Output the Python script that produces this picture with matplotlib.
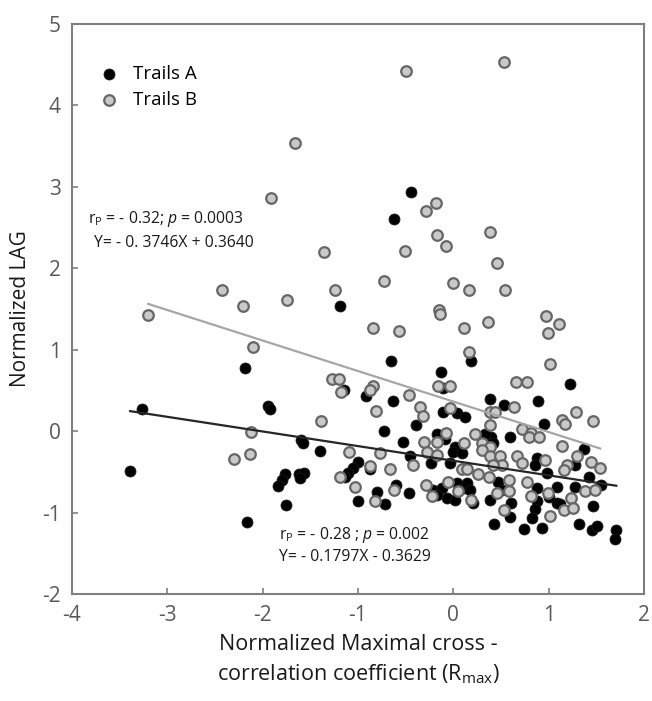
import numpy as np
import matplotlib
matplotlib.use('Agg')
import matplotlib.pyplot as plt

plt.rcParams['font.family'] = ['Open Sans', 'DejaVu Sans']
plt.rcParams['mathtext.fontset'] = 'custom'
plt.rcParams['mathtext.rm'] = 'Open Sans'
plt.rcParams['mathtext.it'] = 'Open Sans:italic'
plt.rcParams['axes.unicode_minus'] = False

# Trails A (black points)
trails_a_x = [-2.19, -3.27, -1.94, -1.92, -3.39, -1.60, -1.77, -1.80, -1.84, -1.62, -1.76, -2.16,
              -0.44, -0.62, -1.19,
              -0.65, -0.13, -1.15, -0.92, -0.63, -0.11, -0.11, 0.04, 0.12, -0.39, -0.73, -0.53, -0.17,
              -0.09, -1.58, -1.40, 0.02, 0.19,
              1.22, 0.38, 0.53, 0.89, 0.95, 0.59, 0.40, 0.42, 0.33, 1.37,
              -1.57, -1.61, -1.00, -1.05, -1.10, -1.14, -0.87, -1.00, -0.80, -0.72, -0.60, -0.46, -0.45,
              -0.23, -0.21, -0.12, -0.07, -0.04, 0.00, 0.04, 0.02, 0.11, -0.17,
              0.09, 0.88, 0.86, 0.98, 1.28, 1.42, 1.55, 1.28, 1.09, 0.88, 0.14, 0.17, 0.47, 0.51, 0.38,
              0.21, 0.60, 0.59, 0.88, 0.86, 0.83, 0.74, 0.93, 1.09, 1.12, 1.00, 0.43, 1.47, 1.32, 1.45,
              1.51, 1.71, 1.70]
trails_a_y = [0.78, 0.27, 0.31, 0.27, -0.49, -0.11, -0.53, -0.60, -0.67, -0.53, -0.91, -1.12,
              2.94, 2.61, 1.54,
              0.86, 0.73, 0.50, 0.43, 0.37, 0.53, 0.23, 0.22, 0.18, 0.07, 0.00, -0.13, -0.04,
              -0.10, -0.15, -0.24, -0.19, 0.86,
              0.58, 0.39, 0.32, 0.37, 0.09, -0.07, -0.07, -0.15, -0.04, -0.22,
              -0.51, -0.58, -0.38, -0.45, -0.51, -0.56, -0.47, -0.86, -0.75, -0.89, -0.66, -0.76, -0.31,
              -0.39, -0.72, -0.70, -0.82, -0.39, -0.25, -0.64, -0.84, -0.70, -0.78,
              -0.27, -0.33, -0.41, -0.51, -0.41, -0.56, -0.66, -0.69, -0.68, -0.70, -0.64, -0.72, -0.62, -0.72, -0.84,
              -0.88, -0.88, -1.05, -0.86, -0.96, -1.07, -1.20, -1.19, -0.88, -0.90, -0.81, -1.14, -0.92, -1.14, -1.21,
              -1.17, -1.21, -1.32]

# Trails B (grey points)
trails_b_x = [-1.66, -1.91, -2.43, -2.21, -1.74, -3.20, -2.10, -2.12, -2.13, -2.30,
              -0.50, 0.53, -0.18, -0.29, -0.17, -0.08, 0.39, 0.46, -1.36, -0.51, -0.73, -1.24, 0.00, 0.16, 0.54,
              -0.15, -0.14, -0.84, -0.57, 0.11, 0.16, -1.27, -1.20, -1.18, -0.84, -0.87, -0.47, -0.81, -0.16,
              -0.04, -0.35, -0.32, -0.03, -1.39, -0.08, -0.31, -0.17, 0.11,
              0.36, 0.97, 1.11, 0.99, 1.01, 0.66, 0.77, 0.64, 0.38, 0.44, 0.39, 1.29, 1.14, 1.17, 1.46, 0.23,
              0.30, 0.72, 0.81, 0.79, 0.90, 1.14, 0.39,
              -1.09, -0.77, -1.19, -1.03, -0.87, -0.66, -0.82, -0.62, -0.42, -0.28, -0.17, -0.29, -0.22, -0.06,
              0.09, 0.14, 0.05,
              0.30, 0.39, 0.49, 0.51, 0.42, 0.26, 0.37, 0.58, 0.58, 0.46, 0.19, 0.67, 0.72, 0.77, 0.81, 0.99,
              0.96, 1.30, 1.19, 1.16, 1.44, 1.54, 1.38, 1.49, 1.23, 1.16, 1.26, 1.01, 0.53]
trails_b_y = [3.54, 2.86, 1.73, 1.54, 1.61, 1.43, 1.03, -0.01, -0.28, -0.34,
              4.42, 4.54, 2.80, 2.70, 2.41, 2.27, 2.45, 2.07, 2.20, 2.21, 1.84, 1.73, 1.82, 1.73, 1.73,
              1.49, 1.44, 1.27, 1.23, 1.27, 0.97, 0.64, 0.64, 0.48, 0.56, 0.50, 0.45, 0.25, 0.56,
              0.56, 0.30, 0.19, 0.28, 0.12, -0.02, -0.13, -0.13, -0.15,
              1.34, 1.41, 1.32, 1.21, 0.82, 0.61, 0.61, 0.30, 0.23, 0.23, 0.07, 0.23, 0.14, 0.09, 0.12, -0.03,
              -0.14, 0.03, -0.02, -0.07, -0.07, -0.18, -0.19,
              -0.25, -0.27, -0.56, -0.69, -0.43, -0.46, -0.86, -0.72, -0.41, -0.26, -0.29, -0.66, -0.80, -0.63,
              -0.47, -0.47, -0.74,
              -0.23, -0.31, -0.31, -0.41, -0.41, -0.53, -0.56, -0.60, -0.74, -0.76, -0.84, -0.31, -0.39, -0.62, -0.80, -0.76,
              -0.36, -0.31, -0.42, -0.48, -0.38, -0.45, -0.74, -0.72, -0.82, -0.97, -0.94, -1.04, -0.97]

# regression coefficients (from the annotations)
slope_a, icpt_a = -0.1797, -0.3629
slope_b, icpt_b = -0.3746, 0.3640

fig = plt.figure(figsize=(6.52, 7.01), dpi=100)
ax = fig.add_axes([0.1104, 0.1526, 0.8773, 0.8131])

ax.scatter(trails_a_x, trails_a_y, s=62, c='black', edgecolors='#1a1a1a', linewidths=0.6,
           label='Trails A', zorder=3)
ax.scatter(trails_b_x, trails_b_y, s=58, c='#c9c9c9', edgecolors='#666666', linewidths=1.6,
           label='Trails B', zorder=4)

xa = np.array([min(trails_a_x), max(trails_a_x)])
xb = np.array([min(trails_b_x), max(trails_b_x)])
ax.plot(xa, slope_a * xa + icpt_a, color='#262626', lw=1.6, zorder=5)
ax.plot(xb, slope_b * xb + icpt_b, color='#a6a6a6', lw=1.6, zorder=5)

ax.set_xlim(-4, 2)
ax.set_ylim(-2, 5)
ax.set_xticks(np.arange(-4, 3, 1))
ax.set_yticks(np.arange(-2, 6, 1))
ax.tick_params(direction='in', length=4, width=1.2, color='#7f7f7f', labelcolor='#595959',
               labelsize=15, pad=8)
for sp in ax.spines.values():
    sp.set_color('#7f7f7f')
    sp.set_linewidth(1.5)

ax.set_xlabel('Normalized Maximal cross -\ncorrelation coefficient (R$_\\mathregular{max}$)',
              fontsize=15.5, color='#1a1a1a', labelpad=6, linespacing=1.4)
ax.set_ylabel('Normalized LAG', fontsize=15, color='#1a1a1a', labelpad=8)

ax.text(-3.83, 2.60, 'r$_\\mathregular{P}$ = - 0.32; $\\it{p}$ = 0.0003', fontsize=11.3,
        color='#1a1a1a', va='center', ha='left')
ax.text(-3.77, 2.31, 'Y= - 0. 3746X + 0.3640', fontsize=11.3, color='#1a1a1a', va='center', ha='left')
ax.text(-1.83, -1.27, 'r$_\\mathregular{P}$ = - 0.28 ; $\\it{p}$ = 0.002', fontsize=11.3,
        color='#1a1a1a', va='center', ha='left')
ax.text(-1.83, -1.54, 'Y= - 0.1797X - 0.3629', fontsize=11.3, color='#1a1a1a', va='center', ha='left')

ax.legend(loc='upper left', bbox_to_anchor=(0.012, 0.948), frameon=False, fontsize=13.5,
          handletextpad=0.3, labelspacing=0.45, borderaxespad=0.2)

plt.savefig('out.png', dpi=100)
